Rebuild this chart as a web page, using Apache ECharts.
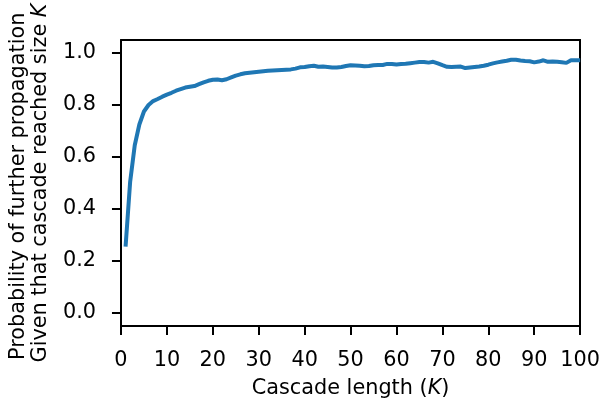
<!DOCTYPE html>
<html>
<head>
<meta charset="utf-8">
<script src="https://cdn.jsdelivr.net/npm/echarts@6/dist/echarts.min.js"></script>
<style>
html,body{margin:0;padding:0;background:#fff;}
#chart{width:603px;height:404px;}
</style>
</head>
<body>
<div id="chart"></div>
<script>
const cascadeLength = [];
for (let k = 1; k <= 100; k++) cascadeLength.push(k);
const probability = [
  0.255, 0.505, 0.645, 0.725, 0.775, 0.800, 0.815, 0.823, 0.832, 0.840,
  0.847, 0.855, 0.861, 0.867, 0.870, 0.873, 0.880, 0.887, 0.893, 0.897,
  0.898, 0.895, 0.899, 0.906, 0.913, 0.918, 0.922, 0.924, 0.926, 0.928,
  0.930, 0.932, 0.933, 0.934, 0.935, 0.936, 0.937, 0.940, 0.945, 0.946,
  0.949, 0.951, 0.947, 0.948, 0.946, 0.944, 0.944, 0.946, 0.950, 0.953,
  0.952, 0.951, 0.949, 0.950, 0.953, 0.954, 0.954, 0.958, 0.958, 0.956,
  0.958, 0.959, 0.961, 0.963, 0.965, 0.965, 0.963, 0.966, 0.960, 0.953,
  0.947, 0.946, 0.947, 0.948, 0.942, 0.944, 0.946, 0.948, 0.951, 0.955,
  0.960, 0.964, 0.967, 0.970, 0.974, 0.974, 0.971, 0.969, 0.968, 0.964,
  0.967, 0.972, 0.966, 0.967, 0.966, 0.964, 0.962, 0.972, 0.972, 0.972
];
const yTicks = [0.0, 0.2, 0.4, 0.6, 0.8, 1.0];
const xTicks = [0, 10, 20, 30, 40, 50, 60, 70, 80, 90, 100];

const font = 'DejaVu Sans';
const fs = 20.8;
const txt = '#000';
const chart = echarts.init(document.getElementById('chart'), null, {renderer: 'canvas'});
chart.setOption({
  animation: false,
  backgroundColor: '#fff',
  grid: {left: 117.5, top: 40, right: 21, bottom: 78, show: false},
  xAxis: [{
    type: 'value', min: 0, max: 100,
    axisLine: {show: true, onZero: false, lineStyle: {color: '#000', width: 2}},
    axisTick: {show: true, inside: false, length: 9, lineStyle: {color: '#000', width: 2}, customValues: xTicks},
    axisLabel: {show: true, color: txt, fontFamily: font, fontSize: fs, margin: 24, customValues: xTicks},
    splitLine: {show: false},
    name: 'Cascade length ({i|K})',
    nameLocation: 'middle', nameGap: 52,
    nameTextStyle: {color: txt, fontFamily: font, fontSize: fs, rich: {i: {fontStyle: 'italic', fontFamily: font, fontSize: fs, color: txt}}}
  }, {
    type: 'value', position: 'top', min: 0, max: 100,
    axisLine: {show: true, onZero: false, lineStyle: {color: '#000', width: 2}},
    axisTick: {show: false}, axisLabel: {show: false}, splitLine: {show: false}
  }],
  yAxis: [{
    type: 'value', min: -0.05, max: 1.05,
    axisLine: {show: true, onZero: false, lineStyle: {color: '#000', width: 2}},
    axisTick: {show: true, inside: false, length: 9, lineStyle: {color: '#000', width: 2}, customValues: yTicks},
    axisLabel: {color: txt, fontFamily: font, fontSize: fs, margin: 25, customValues: yTicks, formatter: v => v.toFixed(1)},
    splitLine: {show: false},
    name: 'Probability of further propagation\u00a0\nGiven that cascade reached size {i|K}',
    nameLocation: 'middle', nameRotate: 90, nameGap: 68,
    nameTextStyle: {color: txt, fontFamily: font, fontSize: fs, lineHeight: 22, rich: {i: {fontStyle: 'italic', fontFamily: font, fontSize: fs, lineHeight: 22, color: txt}}}
  }, {
    type: 'value', position: 'right', min: -0.05, max: 1.05,
    axisLine: {show: true, onZero: false, lineStyle: {color: '#000', width: 2}},
    axisTick: {show: false}, axisLabel: {show: false}, splitLine: {show: false}
  }],
  series: [{
    type: 'line',
    data: cascadeLength.map((k, i) => [k, probability[i]]),
    showSymbol: false,
    lineStyle: {color: '#1f77b4', width: 4},
    itemStyle: {color: '#1f77b4'}
  }]
});
</script>
</body>
</html>
